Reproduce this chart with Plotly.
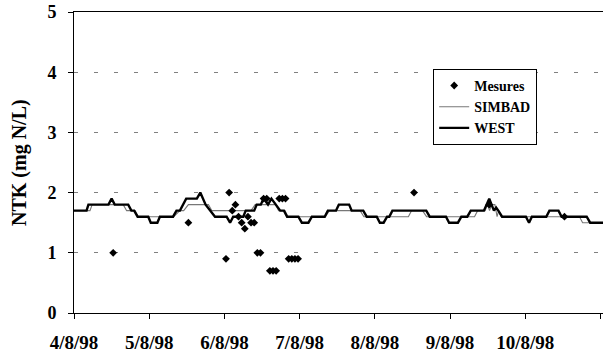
import pandas as pd
import plotly.graph_objects as go

# Time origin of the record (hours are counted from here)
START = pd.Timestamp("1998-08-04 00:00")

# Measured NTK (mg N/L): sampling time in hours and value
mesures_h = [12.5, 36.5, 48.5, 49.5, 50.5, 51.5, 52.5, 53.5, 54.5, 55.5, 56.5, 57.5,
             58.5, 59.5, 60.5, 61.5, 62.5, 63.5, 64.5, 65.5, 66.5, 67.5, 68.5, 69.5,
             70.5, 71.5, 108.5, 132.5, 156.5]
mesures_v = [1.0, 1.5, 0.9, 2.0, 1.7, 1.8, 1.6, 1.5, 1.4, 1.6, 1.5, 1.5,
             1.0, 1.0, 1.9, 1.9, 0.7, 0.7, 0.7, 1.9, 1.9, 1.9, 0.9, 0.9,
             0.9, 0.9, 2.0, 1.8, 1.6]

# SIMBAD simulation (hours, mg N/L)
simbad_h = [0, 5.1, 5.8, 15.7, 16.8, 19.5, 20.5, 31.8, 33.8, 35.0, 36.5, 42.9, 44.0,
            56.5, 57.8, 64.3, 65.3, 67.3, 68.3, 80.2, 81.5, 91.3, 92.5, 106.7, 107.7,
            111.2, 112.5, 127.8, 128.8, 131.2, 131.9, 132.6, 133.3, 134.3, 135.0,
            135.5, 136.3, 161.3, 162.3, 169.0]
simbad_v = [1.7, 1.7, 1.8, 1.8, 1.7, 1.7, 1.6, 1.6, 1.7, 1.7, 1.8, 1.8, 1.7,
            1.7, 1.8, 1.8, 1.7, 1.7, 1.6, 1.6, 1.7, 1.7, 1.6, 1.6, 1.7,
            1.7, 1.6, 1.6, 1.7, 1.7, 1.8, 1.7, 1.8, 1.8, 1.6,
            1.7, 1.6, 1.6, 1.5, 1.5]

# WEST simulation (hours, mg N/L)
west_h = [0, 4.0, 4.6, 11.0, 12.0, 13.0, 17.3, 18.3, 19.2, 20.3, 23.7, 24.5, 26.6,
          27.4, 31.6, 32.7, 33.8, 34.8, 35.8, 39.2, 40.3, 42.0, 43.5, 45.0, 48.7,
          49.8, 50.8, 54.0, 54.8, 57.5, 58.3, 59.6, 60.5, 61.9, 63.0, 64.3, 65.8,
          67.0, 68.0, 71.6, 72.7, 74.8, 75.9, 80.0, 81.0, 83.6, 84.5, 87.8, 88.6,
          92.3, 93.4, 96.6, 97.6, 98.8, 99.9, 100.6, 101.6, 112.4, 113.5, 118.7,
          119.7, 122.5, 123.6, 125.5, 126.6, 130.8, 132.5, 134.0, 134.7, 135.4,
          136.6, 144.2, 145.2, 146.1, 150.7, 151.7, 154.6, 155.6, 163.6, 164.7, 169.0]
west_v = [1.7, 1.7, 1.8, 1.8, 1.9, 1.8, 1.8, 1.7, 1.7, 1.6, 1.6, 1.5, 1.5,
          1.6, 1.6, 1.7, 1.7, 1.8, 1.9, 1.9, 2.0, 1.8, 1.7, 1.6, 1.6,
          1.5, 1.6, 1.6, 1.7, 1.7, 1.8, 1.8, 1.9, 1.8, 1.9, 1.8, 1.7,
          1.7, 1.6, 1.6, 1.5, 1.5, 1.6, 1.6, 1.7, 1.7, 1.8, 1.8, 1.7,
          1.7, 1.6, 1.6, 1.5, 1.5, 1.6, 1.6, 1.7, 1.7, 1.6, 1.6,
          1.5, 1.5, 1.6, 1.6, 1.7, 1.7, 1.9, 1.7, 1.75, 1.7,
          1.6, 1.6, 1.5, 1.6, 1.6, 1.7, 1.7, 1.6, 1.6, 1.5, 1.5]

# Date ticks, one per day (d/m/yy)
tick_days = list(range(8))
tick_labels = ["4/8/98", "5/8/98", "6/8/98", "7/8/98", "8/8/98", "9/8/98", "10/8/98", ""]
x_end_hours = 168.8


def to_time(hours):
    return [START + pd.Timedelta(hours=h) for h in hours]


FONT = "Liberation Serif"

fig = go.Figure()
fig.add_trace(go.Scatter(
    x=to_time(simbad_h), y=simbad_v, mode="lines", name="SIMBAD",
    line=dict(color="#777777", width=1.1), legendrank=2,
))
fig.add_trace(go.Scatter(
    x=to_time(west_h), y=west_v, mode="lines", name="WEST",
    line=dict(color="black", width=2.4), legendrank=3,
))
fig.add_trace(go.Scatter(
    x=to_time(mesures_h), y=mesures_v, mode="markers", name="Mesures",
    marker=dict(symbol="diamond", size=6, color="black"), legendrank=1,
))

fig.update_layout(
    width=605, height=356, autosize=False,
    margin=dict(l=74, r=2, t=12, b=43),
    plot_bgcolor="white", paper_bgcolor="white",
    font=dict(family=FONT, color="black", size=15, weight="bold"),
    legend=dict(
        x=0.679, y=0.811, xanchor="left", yanchor="top",
        bgcolor="white", bordercolor="black", borderwidth=1,
        font=dict(family=FONT, size=14, color="black", weight="bold"),
        itemwidth=30, tracegroupgap=0,
    ),
    xaxis=dict(
        type="date",
        range=[START, START + pd.Timedelta(hours=x_end_hours)],
        tickmode="array",
        tickvals=[START + pd.Timedelta(days=d) for d in tick_days],
        ticktext=tick_labels,
        ticks="outside", ticklen=5, tickcolor="black", tickwidth=1,
        showline=True, linecolor="black", linewidth=1, mirror=True,
        showgrid=False, zeroline=False,
        tickfont=dict(family=FONT, size=19, color="black", weight="bold"),
        ticklabelstandoff=7,
    ),
    yaxis=dict(
        range=[0, 5], tickmode="linear", tick0=0, dtick=1,
        ticks="outside", ticklen=5, tickcolor="black", tickwidth=1,
        showline=True, linecolor="black", linewidth=1,
        showgrid=True, gridcolor="#808080", gridwidth=1, griddash="4px,16px",
        zeroline=False,
        tickfont=dict(family=FONT, size=18, color="black", weight="bold"),
        ticklabelstandoff=8,
    ),
    annotations=[dict(
        text="NTK (mg N/L)", xref="paper", yref="paper",
        x=-0.103, y=0.5, xanchor="center", yanchor="middle",
        textangle=-90, showarrow=False,
        font=dict(family=FONT, size=20, color="black", weight="bold"),
    )],
)

fig.write_html("out.html")
